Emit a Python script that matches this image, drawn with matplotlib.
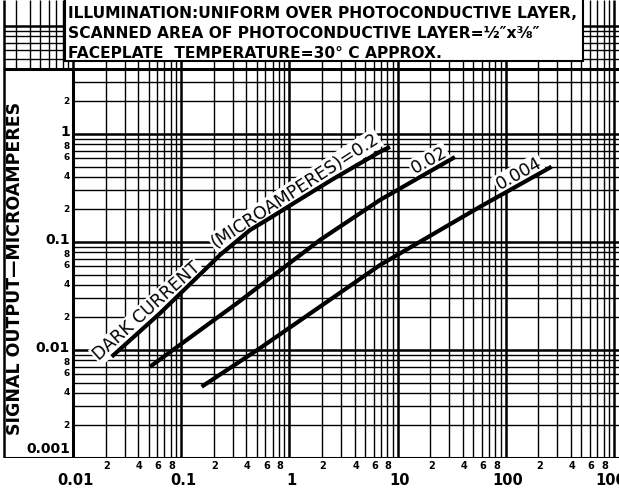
import numpy as np
import matplotlib
matplotlib.use('Agg')
import matplotlib.pyplot as plt
from matplotlib.patches import Rectangle

# signal output curves (x = light, y = microamperes)
x_dark_02 = [0.0228, 0.0637, 0.229, 0.4325, 0.65, 1.09, 2.5, 6.88, 8.5]
y_dark_02 = [0.00867, 0.0219, 0.076, 0.129, 0.165, 0.228, 0.38, 0.685, 0.76]

x_dark_002 = [0.0515, 0.326, 1.92, 6.88, 33.9]
y_dark_002 = [0.0070, 0.0270, 0.1045, 0.245, 0.612]

x_dark_0004 = [0.1545, 0.535, 1.92, 6.88, 57.8, 265]
y_dark_0004 = [0.00457, 0.0104, 0.0252, 0.0612, 0.212, 0.498]

x_major = [0.01, 0.1, 1, 10, 100, 1000]
x_major_labels = ['0.01', '0.1', '1', '10', '100', '1000']
y_major = [0.001, 0.01, 0.1, 1]
y_major_labels = ['0.001', '0.01', '0.1', '1']
minor_marks = [2, 4, 6, 8]

box_lines = ['ILLUMINATION:UNIFORM OVER PHOTOCONDUCTIVE LAYER,',
             'SCANNED AREA OF PHOTOCONDUCTIVE LAYER=\u00bd\u2033x\u215c\u2033',
             'FACEPLATE  TEMPERATURE=30\u00b0 C APPROX.']

# ---- layout in pixels (the chart is "log paper", 108 px per decade)
W, H = 619, 490
X0, Y0 = 73, 458          # pixel of x=0.01 and y=0.001
DX, DY = 108.2, 108.0
TOP = 4.0                 # top edge of the plotting area


def fx(px):
    return px / W


def fy(py):
    return 1 - py / H


def xd(px):
    return 10 ** (-2 + (px - X0) / DX)


def yd(py):
    return 10 ** (-3 + (Y0 - py) / DY)


def ypx(v):
    return Y0 - DY * (np.log10(v) + 3)


def xpx(v):
    return X0 + DX * (np.log10(v) + 2)


fig = plt.figure(figsize=(W / 100, H / 100), dpi=100)
ax = fig.add_axes([0, (H - Y0) / H, 1, Y0 / H])
ax.set_xscale('log')
ax.set_yscale('log')
xmin, xmax = xd(0), xd(W)
ymin, ymax = yd(Y0), yd(0)
ax.set_xlim(xmin, xmax)
ax.set_ylim(ymin, ymax)
ax.axis('off')

# grid of the log paper
for d in range(-3, 2):
    for m in range(1, 10):
        v = m * 10.0 ** d
        if v > 10.5:
            continue
        lw = 1.8 if m == 1 else 1.0
        if v <= TOP + 1e-9:
            ax.hlines(v, 0.01, xmax, color='black', lw=lw, zorder=1)
        else:
            ax.hlines(v, xd(4), xmax, color='black', lw=lw, zorder=1)

for d in range(-3, 4):
    for m in range(1, 10):
        v = m * 10.0 ** d
        if v < xd(4) or v > xmax:
            continue
        lw = 1.8 if m == 1 else 1.0
        if v >= 0.01 - 1e-12:
            ax.vlines(v, ymin, ymax, color='black', lw=lw, zorder=1)
        else:
            ax.vlines(v, TOP, ymax, color='black', lw=lw, zorder=1)

# frame
ax.hlines(TOP, xd(4), xmax, color='black', lw=2.2, zorder=2)
ax.hlines(ymin, xd(4), xmax, color='black', lw=2.2, zorder=2)
ax.vlines(xd(4), ymin, ymax, color='black', lw=1.8, zorder=2)
ax.vlines(0.01, ymin, TOP, color='black', lw=2.2, zorder=2)

# curves
for xs, ys in [(x_dark_02, y_dark_02), (x_dark_002, y_dark_002),
               (x_dark_0004, y_dark_0004)]:
    ax.plot(xs, ys, color='black', lw=3.0, solid_capstyle='butt', zorder=4)

# curve labels
lab = dict(color='black', fontsize=12.5, rotation_mode='anchor', ha='center',
           va='bottom', zorder=3,
           bbox=dict(fc='white', ec='none', pad=1.0))
ax.text(0.055, 0.0198, 'DARK CURRENT', rotation=42, **lab)
ax.text(1.25, 0.255, '(MICROAMPERES)=0.2', rotation=33, **lab)
ax.text(21.5, 0.48, '0.02', rotation=29, **lab)
ax.text(145, 0.36, '0.004', rotation=29, **lab)

# text box at the top
fig.add_artist(Rectangle((fx(65), fy(61)), fx(583) - fx(65), fy(-2) - fy(61),
                         transform=fig.transFigure, fc='white', ec='black',
                         lw=1.5, zorder=1))
for i, s in enumerate(box_lines):
    fig.text(fx(68), fy(13 + 20.5 * i), s, fontsize=11.2, fontweight='bold',
             va='center', ha='left', zorder=3)

# y axis labels
fig.text(fx(15), fy(268), 'SIGNAL OUTPUT\u2014MICROAMPERES', rotation=90,
         fontsize=12.5, fontweight='bold', ha='center', va='center')
for v, s in zip(y_major, y_major_labels):
    py = ypx(v) - 2
    if v == 0.001:
        py -= 7
    fig.text(fx(70), fy(py), s, fontsize=10, fontweight='bold',
             ha='right', va='center')
for d in range(-3, 1):
    for m in minor_marks:
        v = m * 10.0 ** d
        if v > TOP:
            continue
        if m != 2 and d == 0:
            continue
        py = ypx(v) + (2 if m == 8 else 0)
        fig.text(fx(70), fy(py), str(m), fontsize=6.5, fontweight='bold',
                 ha='right', va='center')

# x axis labels
for v, s in zip(x_major, x_major_labels):
    fig.text(fx(xpx(v) + 2), fy(480), s, fontsize=10.5, fontweight='bold',
             ha='center', va='center')
for d in range(-2, 3):
    for m in minor_marks:
        v = m * 10.0 ** d
        fig.text(fx(xpx(v) + 1), fy(466), str(m), fontsize=7,
                 fontweight='bold', ha='center', va='center')

fig.savefig('out.png', dpi=100)
